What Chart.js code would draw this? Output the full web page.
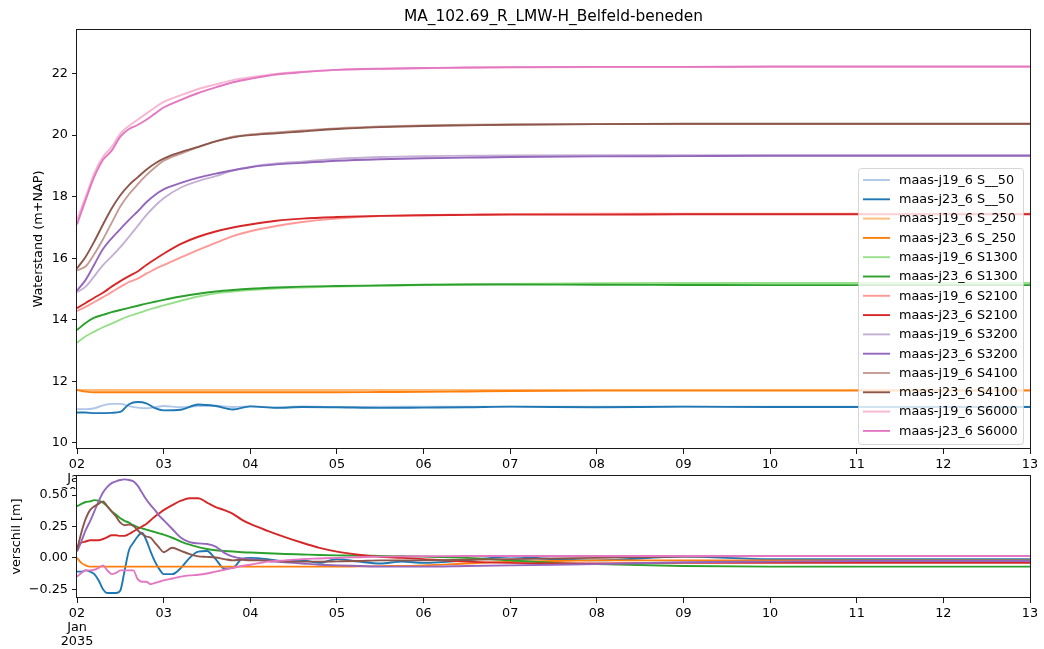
<!DOCTYPE html>
<html><head><meta charset="utf-8">
<script src="https://cdn.jsdelivr.net/npm/chart.js@4.4.1/dist/chart.umd.min.js"></script>
<style>
html,body{margin:0;padding:0;background:#fff;}
#wrap{position:relative;width:1044px;height:649px;overflow:hidden;}
canvas{position:absolute;left:0;top:0;}
</style></head><body>
<div id="wrap"><canvas id="topChart" width="1044" height="649"></canvas><canvas id="botChart" width="1044" height="649"></canvas></div>
<script>
// ---------------- data ----------------
const chartTitle = "MA_102.69_R_LMW-H_Belfeld-beneden";
const dayTickValues = [0,1,2,3,4,5,6,7,8,9,10,11];
const dayTickLabels = ["02","03","04","05","06","07","08","09","10","11","12","13"];
const firstTickExtra = ["Jan","2035"];
const topYTicks = [10,12,14,16,18,20,22];
const diffYTicks = [-0.25,0,0.25,0.5];
const diffYTickLabels = ["\u22120.25","0.00","0.25","0.50"];
const scenarios = ["S__50","S_250","S1300","S2100","S3200","S4100","S6000"];

// time in days after 02 Jan 2035 00:00
const timeTop = [0,0.1,0.2,0.3,0.4,0.5,0.6,0.7,0.8,0.9,1.0,1.2,1.4,1.6,1.8,2.0,2.3,2.6,3.0,3.5,4.0,4.5,5.0,6.0,7.0,8.0,9.0,10.0,11.0];

const j19_S__50 = [11.10,11.10,11.13,11.22,11.27,11.27,11.20,11.15,11.13,11.16,11.20,11.16,11.20,11.21,11.17,11.19,11.16,11.19,11.17,11.18,11.18,11.18,11.18,11.18,11.18,11.18,11.18,11.18,11.18];
const j23_S__50 = [10.99,10.99,10.97,10.97,10.98,11.01,11.26,11.33,11.29,11.13,11.06,11.08,11.25,11.20,11.09,11.19,11.14,11.17,11.16,11.14,11.15,11.16,11.18,11.16,11.18,11.17,11.17,11.17,11.17];
const j19_S_250 = [11.72,11.72,11.72,11.72,11.72,11.72,11.72,11.72,11.72,11.72,11.72,11.72,11.72,11.72,11.72,11.72,11.72,11.72,11.72,11.72,11.72,11.72,11.72,11.72,11.72,11.72,11.72,11.72,11.72];
const j23_S_250 = [11.72,11.67,11.65,11.65,11.65,11.65,11.65,11.65,11.65,11.65,11.65,11.65,11.65,11.65,11.65,11.65,11.65,11.65,11.65,11.655,11.66,11.675,11.69,11.70,11.70,11.70,11.70,11.70,11.70];
const j19_S1300 = [13.26,13.47,13.62,13.76,13.88,14.01,14.12,14.21,14.31,14.39,14.47,14.62,14.76,14.86,14.92,14.97,15.02,15.05,15.08,15.11,15.13,15.15,15.17,15.19,15.20,15.20,15.20,15.20,15.20];
const j23_S1300 = [13.67,13.90,14.07,14.16,14.25,14.32,14.39,14.46,14.53,14.59,14.65,14.76,14.85,14.92,14.97,15.01,15.05,15.08,15.10,15.12,15.14,15.15,15.15,15.14,15.135,15.13,15.13,15.13,15.13];
const j19_S2100 = [14.29,14.42,14.58,14.74,14.90,15.07,15.23,15.34,15.50,15.65,15.78,16.03,16.27,16.50,16.72,16.88,17.05,17.18,17.29,17.37,17.40,17.42,17.44,17.45,17.45,17.45,17.45,17.45,17.45];
const j23_S2100 = [14.38,14.55,14.72,14.88,15.08,15.26,15.42,15.57,15.78,15.97,16.15,16.47,16.70,16.87,17.00,17.10,17.22,17.29,17.34,17.38,17.40,17.41,17.42,17.42,17.43,17.43,17.43,17.43,17.43];
const j19_S3200 = [14.90,15.08,15.42,15.78,16.06,16.36,16.70,17.05,17.40,17.70,17.95,18.30,18.51,18.67,18.85,18.97,19.08,19.14,19.23,19.29,19.32,19.33,19.34,19.35,19.35,19.35,19.35,19.35,19.35];
const j23_S3200 = [14.95,15.30,15.80,16.30,16.65,16.95,17.25,17.52,17.82,18.06,18.24,18.45,18.62,18.75,18.86,18.96,19.05,19.10,19.17,19.22,19.25,19.27,19.29,19.31,19.32,19.33,19.33,19.33,19.33];
const j19_S4100 = [15.61,15.74,16.14,16.62,17.15,17.68,18.08,18.40,18.70,18.95,19.17,19.40,19.61,19.80,19.95,20.02,20.09,20.15,20.22,20.28,20.32,20.34,20.35,20.36,20.36,20.36,20.36,20.36,20.36];
const j23_S4100 = [15.67,16.05,16.55,17.10,17.62,18.05,18.38,18.63,18.88,19.08,19.24,19.45,19.62,19.80,19.93,20.00,20.06,20.12,20.20,20.26,20.30,20.32,20.34,20.36,20.37,20.37,20.37,20.37,20.37];
const j19_S6000 = [17.25,18.00,18.77,19.30,19.62,20.05,20.30,20.50,20.70,20.90,21.08,21.30,21.50,21.65,21.79,21.88,21.99,22.06,22.12,22.15,22.17,22.19,22.20,22.21,22.21,22.22,22.22,22.22,22.22];
const j23_S6000 = [17.10,17.90,18.65,19.20,19.50,19.95,20.20,20.33,20.50,20.70,20.90,21.15,21.37,21.55,21.72,21.83,21.97,22.05,22.12,22.16,22.18,22.20,22.21,22.22,22.22,22.23,22.23,22.23,22.23];

// difference j23 - j19 [m]
const timeDiff = [0,0.05,0.1,0.15,0.2,0.25,0.3,0.35,0.4,0.45,0.5,0.55,0.6,0.65,0.7,0.75,0.8,0.85,0.9,0.95,1.0,1.1,1.2,1.3,1.4,1.5,1.6,1.7,1.8,1.9,2.0,2.2,2.4,2.6,2.8,3.0,3.25,3.5,3.75,4.0,4.5,5.0,5.5,6.0,7.0,8.0,9.0,10.0,11.0];
const diff_S__50 = [-0.11,-0.11,-0.10,-0.11,-0.13,-0.18,-0.25,-0.28,-0.28,-0.28,-0.26,-0.10,0.06,0.12,0.17,0.20,0.14,0.05,-0.03,-0.09,-0.13,-0.13,-0.08,0.00,0.05,0.055,-0.01,-0.085,-0.08,-0.01,0.00,-0.01,-0.03,-0.02,-0.04,-0.01,-0.03,-0.045,-0.03,-0.04,-0.02,0.01,-0.01,-0.02,0.01,-0.01,-0.01,-0.01,-0.01];
const diff_S_250 = [0.00,-0.04,-0.06,-0.07,-0.07,-0.07,-0.07,-0.07,-0.07,-0.07,-0.07,-0.07,-0.07,-0.07,-0.07,-0.07,-0.07,-0.07,-0.07,-0.07,-0.07,-0.07,-0.07,-0.07,-0.07,-0.07,-0.07,-0.07,-0.07,-0.07,-0.07,-0.07,-0.07,-0.07,-0.07,-0.07,-0.068,-0.066,-0.064,-0.06,-0.045,-0.03,-0.025,-0.02,-0.02,-0.02,-0.02,-0.02,-0.02];
const diff_S1300 = [0.41,0.43,0.445,0.45,0.46,0.455,0.44,0.41,0.37,0.345,0.315,0.295,0.28,0.26,0.245,0.235,0.225,0.215,0.205,0.195,0.185,0.16,0.13,0.105,0.085,0.07,0.06,0.055,0.05,0.045,0.042,0.036,0.031,0.027,0.023,0.02,0.018,0.015,0.013,0.01,0.0,-0.02,-0.04,-0.05,-0.065,-0.07,-0.07,-0.07,-0.07];
const diff_S2100 = [0.09,0.12,0.13,0.14,0.14,0.14,0.15,0.165,0.18,0.18,0.175,0.175,0.19,0.21,0.23,0.25,0.27,0.30,0.33,0.355,0.38,0.42,0.455,0.475,0.475,0.44,0.405,0.38,0.35,0.305,0.27,0.215,0.165,0.12,0.08,0.05,0.025,0.008,0.0,-0.01,-0.03,-0.04,-0.045,-0.045,-0.04,-0.04,-0.04,-0.04,-0.04];
const diff_S3200 = [0.05,0.13,0.22,0.29,0.37,0.45,0.52,0.565,0.595,0.61,0.62,0.625,0.62,0.61,0.575,0.52,0.465,0.42,0.38,0.335,0.30,0.23,0.16,0.125,0.115,0.11,0.09,0.04,0.01,-0.005,-0.01,-0.025,-0.035,-0.045,-0.055,-0.06,-0.065,-0.07,-0.07,-0.07,-0.065,-0.06,-0.055,-0.05,-0.035,-0.03,-0.025,-0.025,-0.025];
const diff_S4100 = [0.06,0.20,0.31,0.38,0.41,0.43,0.45,0.41,0.37,0.33,0.28,0.26,0.265,0.255,0.22,0.19,0.17,0.16,0.12,0.08,0.045,0.08,0.055,0.03,0.012,0.008,0.003,-0.01,-0.02,-0.015,-0.02,-0.02,-0.03,-0.03,-0.03,-0.028,-0.025,-0.02,-0.02,-0.02,-0.015,-0.01,-0.005,0.0,0.01,0.015,0.015,0.015,0.015];
const diff_S6000 = [-0.15,-0.12,-0.10,-0.10,-0.095,-0.08,-0.06,-0.10,-0.13,-0.12,-0.10,-0.10,-0.10,-0.10,-0.17,-0.19,-0.19,-0.21,-0.20,-0.19,-0.18,-0.165,-0.15,-0.14,-0.135,-0.125,-0.11,-0.095,-0.08,-0.065,-0.055,-0.03,-0.02,-0.01,-0.005,0.0,0.005,0.01,0.012,0.013,0.015,0.015,0.015,0.015,0.015,0.015,0.015,0.015,0.015];

// ---------------- styles ----------------
const lightColors = ['#aec7e8','#ffbb78','#98df8a','#ff9896','#c5b0d5','#c49c94','#f7b6d2'];
const darkColors  = ['#1f77b4','#ff7f0e','#2ca02c','#d62728','#9467bd','#8c564b','#e377c2'];
const FONT = 'DejaVu Sans';
const TXT = '#000';

const topPairs = [[j19_S__50,j23_S__50],[j19_S_250,j23_S_250],[j19_S1300,j23_S1300],[j19_S2100,j23_S2100],[j19_S3200,j23_S3200],[j19_S4100,j23_S4100],[j19_S6000,j23_S6000]];
const diffSeries = [diff_S__50,diff_S_250,diff_S1300,diff_S2100,diff_S3200,diff_S4100,diff_S6000];

function pts(xs, ys){ return xs.map((x,i)=>({x:x, y:ys[i]})); }
function lineDs(label, color, xs, ys, idx){
  return {label, data: pts(xs, ys), borderColor: color, backgroundColor: color, borderWidth: 1.9,
    pointRadius: 0, fill: false, cubicInterpolationMode: 'monotone', tension: 0.4, order: -idx};
}
const topDatasets = [];
scenarios.forEach((s,k)=>{
  topDatasets.push(lineDs('maas-j19_6 ' + s, lightColors[k], timeTop, topPairs[k][0], topDatasets.length));
  topDatasets.push(lineDs('maas-j23_6 ' + s, darkColors[k], timeTop, topPairs[k][1], topDatasets.length));
});
const diffDatasets = scenarios.map((s,k)=>lineDs(s, darkColors[k], timeDiff, diffSeries[k], k));

Chart.defaults.font.family = FONT;
Chart.defaults.color = TXT;

const spinePlugin = {
  id: 'spines',
  afterDraw(chart){
    const a = chart.chartArea, c = chart.ctx;
    c.save(); c.strokeStyle = '#1a1a1a'; c.lineWidth = 1;
    c.strokeRect(Math.round(a.left)-0.5, Math.round(a.top)+0.5, Math.round(a.right)-Math.round(a.left)+1, Math.round(a.bottom)-Math.round(a.top)-1);
    c.restore();
  }
};
const whiteAreaPlugin = {
  id: 'whiteArea',
  beforeDraw(chart){
    const a = chart.chartArea, c = chart.ctx;
    c.save(); c.fillStyle = '#fff'; c.fillRect(a.left, a.top, a.right-a.left, a.bottom-a.top); c.restore();
  }
};
const mplLegend = {
  id: 'mplLegend',
  afterDraw(chart){
    const c = chart.ctx, a = chart.chartArea;
    const n = chart.data.datasets.length;
    const rowH = 19.3, w = 165, h = 276;
    const x0 = a.right - 7 - w, y0 = a.bottom - 5 - h;
    c.save();
    c.beginPath();
    if (c.roundRect) c.roundRect(x0+0.5, y0+0.5, w, h, 3); else c.rect(x0+0.5, y0+0.5, w, h);
    c.fillStyle = 'rgba(255,255,255,0.8)'; c.fill();
    c.strokeStyle = 'rgba(204,204,204,0.8)'; c.lineWidth = 1; c.stroke();
    c.font = '12.8px "' + FONT + '"'; c.textBaseline = 'middle'; c.textAlign = 'left';
    for (let i=0;i<n;i++){
      const ds = chart.data.datasets[i];
      const y = y0 + 12 + i*rowH;
      c.strokeStyle = ds.borderColor; c.lineWidth = 1.9;
      c.beginPath(); c.moveTo(x0+5, y); c.lineTo(x0+32, y); c.stroke();
      c.fillStyle = TXT; c.fillText(ds.label, x0+41, y+0.5);
    }
    c.restore();
  }
};

function xScale(height){
  return {
    type: 'linear', min: 0, max: 11,
    afterBuildTicks(s){ s.ticks = dayTickValues.map(v=>({value:v})); },
    afterFit(s){ s.height = height; },
    ticks: { autoSkip: false, maxRotation: 0, minRotation: 0, padding: 3.5, color: TXT,
      font: { size: 12.8, lineHeight: 1.1 },
      callback(v, i){ return i === 0 ? [dayTickLabels[0]].concat(firstTickExtra) : dayTickLabels[i]; } },
    grid: { display: true, drawOnChartArea: false, drawTicks: true, tickLength: 5, color: '#1a1a1a', tickWidth: 1 },
    border: { display: false }
  };
}

new Chart(document.getElementById('topChart'), {
  type: 'line',
  data: { datasets: topDatasets },
  options: {
    responsive: false, animation: false, events: [],
    layout: { padding: { left: 0, right: 14, top: 0, bottom: 160 } },
    plugins: {
      legend: { display: false }, tooltip: { enabled: false },
      title: { display: true, fullSize: false, text: chartTitle, color: TXT, font: { size: 15.4, weight: 'normal', lineHeight: 1.2 }, padding: { top: 7.5, bottom: 3 } }
    },
    scales: {
      x: xScale(40),
      y: {
        type: 'linear', min: 9.805, max: 23.45,
        afterBuildTicks(s){ s.ticks = topYTicks.map(v=>({value:v})); },
        afterFit(s){ s.width = 77; },
        ticks: { padding: 4, color: TXT, font: { size: 12.8 }, callback(v){ return String(v); } },
        grid: { display: true, drawOnChartArea: false, drawTicks: true, tickLength: 5, color: '#1a1a1a' },
        border: { display: false },
        title: { display: true, text: 'Waterstand (m+NAP)', color: TXT, font: { size: 12.8 }, padding: { top: 31.3, bottom: 0 } }
      }
    }
  },
  plugins: [spinePlugin, mplLegend]
});

new Chart(document.getElementById('botChart'), {
  type: 'line',
  data: { datasets: diffDatasets },
  options: {
    responsive: false, animation: false, events: [],
    layout: { padding: { left: 0, right: 14, top: 475, bottom: 0 } },
    plugins: { legend: { display: false }, tooltip: { enabled: false }, title: { display: false } },
    scales: {
      x: xScale(51),
      y: {
        type: 'linear', min: -0.32, max: 0.66,
        afterBuildTicks(s){ s.ticks = diffYTicks.map(v=>({value:v})); },
        afterFit(s){ s.width = 77; },
        ticks: { padding: 4, color: TXT, font: { size: 12.8 }, callback(v, i){ return diffYTickLabels[i]; } },
        grid: { display: true, drawOnChartArea: false, drawTicks: true, tickLength: 5, color: '#1a1a1a' },
        border: { display: false },
        title: { display: true, text: 'verschil [m]', color: TXT, font: { size: 12.8 }, padding: { top: 9.3, bottom: 0 } }
      }
    }
  },
  plugins: [whiteAreaPlugin, spinePlugin]
});
</script>
</body></html>
